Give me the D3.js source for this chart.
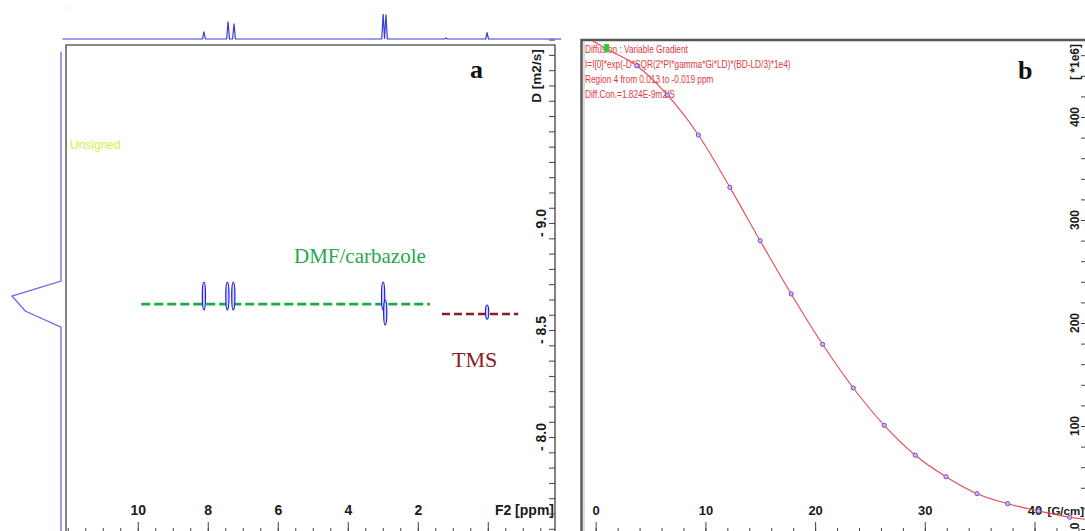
<!DOCTYPE html>
<html>
<head>
<meta charset="utf-8">
<script src="https://cdn.jsdelivr.net/npm/d3@7"></script>
<style>
  body { margin: 0; background: #fff; overflow: hidden; }
  .axis text { font-family: Arial, "Liberation Sans", sans-serif; font-weight: bold; fill: #1a1a1a; }
  .axis line { stroke: #444; }
</style>
</head>
<body>
<script>
// ---- panel a : 2D DOSY map ----
var f2Ticks = [10, 8, 6, 4, 2];
var dTicks = [-9.0, -8.5, -8.0];
var dTickLabels = ["- 9.0", "- 8.5", "- 8.0"];
// 1D projection along F2 : [ppm, relative height]
var projF2 = [[8.11, 0.30], [7.42, 0.70], [7.25, 0.62], [2.99, 1.0], [2.91, 0.98], [1.19, 0.04], [0.02, 0.26]];
// projection along D : [log D, relative height]
var projD = [[-9.80, 0], [-8.729, 0], [-8.659, 1], [-8.589, 0.73], [-8.514, 0], [-7.55, 0]];
// cross peaks
var peakPpm = [8.11, 7.44, 7.27, 2.99, 2.93, 0.02];
var peakD = [-8.659, -8.659, -8.659, -8.659, -8.582, -8.584];
var peakSpan = [0.065, 0.065, 0.065, 0.065, 0.058, 0.033];
// guide lines
var dmfLine = [[9.9, -8.621], [1.65, -8.621]];
var tmsLine = [[1.31, -8.575], [-0.87, -8.575]];

// ---- panel b : signal decay vs gradient ----
var gradient = [1.0, 3.74, 6.53, 9.36, 12.23, 14.99, 17.82, 20.68, 23.48, 26.3, 29.13, 31.93, 34.76, 37.55, 40.36, 43.21];
var intensity = [466, 449.8, 421.4, 382.5, 331.7, 279.9, 228.2, 179.3, 136.9, 100.7, 71.6, 50.8, 34.3, 24.6, 17.5, 11.4];
var fitStart = [-0.3, 474], fitEnd = [44.6, 9.5];
var gTicks = [0, 10, 20, 30, 40];
var iTicks = [0, 100, 200, 300, 400];
var infoLines = ["Diffusion : Variable Gradient",
  "I=I[0]*exp(-D*SQR(2*PI*gamma*Gi*LD)*(BD-LD/3)*1e4)",
  "Region 4 from 0.013 to -0.019 ppm",
  "Diff.Con.=1.824E-9m2/S"];

var W = 1085, H = 531;
var svg = d3.select("body").append("svg").attr("width", W).attr("height", H);

// ================= panel a =================
var xA = d3.scaleLinear().domain([12.05, -1.92]).range([66, 555]);
var yA = d3.scaleLinear().domain([-9.832, -7.561]).range([45, 531]);
var projTop = d3.scaleLinear().domain([0, 1]).range([39, 14]);
var projLeft = d3.scaleLinear().domain([0, 1]).range([61, 12]);

svg.append("text").attr("x", 66).attr("y", 10).style("font", "8px Arial").style("fill", "#aaa").text(":");

// top projection
var topPts = [[12.15, 0]];
projF2.forEach(function (p) { topPts.push([p[0] + 0.04, 0], [p[0], p[1]], [p[0] - 0.04, 0]); });
topPts.push([-2.1, 0]);
svg.append("path")
  .attr("d", d3.line().x(function (d) { return xA(d[0]); }).y(function (d) { return projTop(d[1]); })(topPts))
  .attr("fill", "none").attr("stroke", "#3a3ae0").attr("stroke-width", 1.2);

// left projection
svg.append("path")
  .attr("d", d3.line().x(function (d) { return projLeft(d[1]); }).y(function (d) { return yA(d[0]); })(projD))
  .attr("fill", "none").attr("stroke", "#6a6ae8").attr("stroke-width", 1.3);

// frame
svg.append("path").attr("d", "M66,531V45H555V531").attr("fill", "none")
  .attr("stroke", "#666").attr("stroke-width", 1.6);

// bottom F2 axis (ticks pointing up)
var f2Minor = d3.range(-1.5, 12.01, 0.5);
svg.append("g").attr("class", "axis").attr("transform", "translate(0,533)")
  .call(d3.axisTop(xA).tickValues(f2Minor).tickSize(5).tickFormat(""))
  .call(function (g) { g.select(".domain").remove(); });
svg.append("g").attr("class", "axis").attr("transform", "translate(0,533)")
  .call(d3.axisTop(xA).tickValues(f2Ticks.concat([0])).tickSize(11).tickPadding(7)
    .tickFormat(function (d) { return d === 0 ? "" : d; }))
  .call(function (g) { g.select(".domain").remove(); g.selectAll("text").style("font-size", "14px"); });
svg.append("text").attr("x", 554).attr("y", 515).attr("text-anchor", "end")
  .style("font", "bold 14px Arial").style("fill", "#1a1a1a").text("F2 [ppm]");

// right D axis (ticks pointing in)
var dMinor = d3.range(-9 - 12 * (0.5 / 7), -7.5, 0.5 / 7);
svg.append("g").attr("class", "axis").attr("transform", "translate(555,0)")
  .call(d3.axisLeft(yA).tickValues(dMinor).tickSize(6).tickFormat(""))
  .call(function (g) { g.select(".domain").remove(); });
svg.selectAll(".dlab").data(dTicks).enter().append("text")
  .attr("transform", function (d) { return "translate(541," + yA(d) + ") rotate(-90)"; })
  .attr("text-anchor", "middle").attr("dy", "0.35em")
  .style("font", "bold 14px Arial").style("fill", "#1a1a1a")
  .text(function (d, i) { return dTickLabels[i]; });
svg.append("text").attr("transform", "translate(536,76) rotate(-90)")
  .attr("text-anchor", "middle").attr("dy", "0.35em")
  .style("font", "bold 13.5px Arial").style("fill", "#1a1a1a").text("D [m2/s]");

svg.append("text").attr("x", 70).attr("y", 149).style("font", "12px Arial")
  .style("fill", "#d2ef45").text("Unsigned");

// guide lines
var lineA = d3.line().x(function (d) { return xA(d[0]); }).y(function (d) { return yA(d[1]); });
svg.append("path").attr("d", lineA(dmfLine)).attr("stroke", "#1fa84c").attr("stroke-width", 2.6)
  .attr("stroke-dasharray", "9,4").attr("fill", "none");
svg.append("path").attr("d", lineA(tmsLine)).attr("stroke", "#8b1c1c").attr("stroke-width", 2.6)
  .attr("stroke-dasharray", "8,4").attr("fill", "none");

// cross peaks
svg.selectAll(".pk").data(peakPpm).enter().append("ellipse")
  .attr("cx", function (d) { return xA(d); })
  .attr("cy", function (d, i) { return yA(peakD[i]); })
  .attr("rx", 1.6)
  .attr("ry", function (d, i) { return yA(peakD[i] + peakSpan[i]) - yA(peakD[i]); })
  .attr("fill", "#d4d4ff").attr("stroke", "#1f1fe0").attr("stroke-width", 1.2);

svg.append("text").attr("x", 294).attr("y", 263).style("font", "21px 'Liberation Serif', 'Times New Roman', serif")
  .style("fill", "#1fa84c").text("DMF/carbazole");
svg.append("text").attr("x", 452).attr("y", 367).style("font", "22px 'Liberation Serif', 'Times New Roman', serif")
  .style("fill", "#8b1c1c").text("TMS");
svg.append("text").attr("x", 470).attr("y", 78).style("font", "bold 26px 'Liberation Serif', 'Times New Roman', serif")
  .style("fill", "#111").text("a");

// ================= panel b =================
var xB = d3.scaleLinear().domain([-1.34, 44.6]).range([581, 1085]);
var yB = d3.scaleLinear().domain([0, 475]).range([529, 39.75]);

svg.append("path").attr("d", "M581.5,531V40H1085").attr("fill", "none")
  .attr("stroke", "#555").attr("stroke-width", 2.4);
svg.append("line").attr("x1", 584).attr("x2", 584).attr("y1", 41).attr("y2", 531)
  .attr("stroke", "#bbb").attr("stroke-width", 1);

// info text (condensed horizontally like the original)
svg.append("g").attr("transform", "translate(585,0) scale(0.83,1)")
  .selectAll("text").data(infoLines).enter().append("text")
  .attr("x", 0).attr("y", function (d, i) { return 53 + i * 15; })
  .style("font", "10px Arial, 'Liberation Sans', sans-serif")
  .style("fill", "#e2383d").text(function (d) { return d; });

// bottom gradient axis
svg.append("g").attr("class", "axis").attr("transform", "translate(0,533)")
  .call(d3.axisTop(xB).tickValues(d3.range(0, 45, 2)).tickSize(5).tickFormat(""))
  .call(function (g) { g.select(".domain").remove(); });
svg.append("g").attr("class", "axis").attr("transform", "translate(0,533)")
  .call(d3.axisTop(xB).tickValues(gTicks).tickSize(11).tickPadding(7))
  .call(function (g) { g.select(".domain").remove(); g.selectAll("text").style("font-size", "13px"); });
svg.append("text").attr("x", 1084).attr("y", 515).attr("text-anchor", "end")
  .style("font", "bold 11.5px Arial").style("fill", "#1a1a1a").text("[G/cm]");

// right intensity axis
svg.append("g").attr("class", "axis").attr("transform", "translate(1085,0)")
  .call(d3.axisLeft(yB).tickValues(d3.range(0, 475, 20)).tickSize(4).tickFormat(""))
  .call(function (g) { g.select(".domain").remove(); });
svg.selectAll(".ilab").data(iTicks).enter().append("text")
  .attr("transform", function (d) { return "translate(1075," + (d === 0 ? yB(d) - 3 : yB(d)) + ") rotate(-90)"; })
  .attr("text-anchor", "middle").attr("dy", "0.35em")
  .style("font", "bold 12px Arial").style("fill", "#1a1a1a").text(function (d) { return d; });
svg.append("text").attr("transform", "translate(1075,62) rotate(-90)")
  .attr("text-anchor", "middle").attr("dy", "0.35em")
  .style("font", "bold 12px Arial").style("fill", "#1a1a1a").text("[ *1e6]");

// fitted curve
var fit = [fitStart].concat(gradient.map(function (g, i) { return [g, intensity[i]]; }), [fitEnd]);
svg.append("path")
  .attr("d", d3.line().curve(d3.curveMonotoneX)
    .x(function (d) { return xB(d[0]); }).y(function (d) { return yB(d[1]); })(fit))
  .attr("fill", "none").attr("stroke", "#ea4a4e").attr("stroke-width", 1.1);

svg.selectAll(".pt").data(gradient).enter().append("circle")
  .attr("cx", function (d) { return xB(d); })
  .attr("cy", function (d, i) { return yB(intensity[i]); })
  .attr("r", 2.1).attr("fill", "#cbbcf6").attr("stroke", "#6b4fd2").attr("stroke-width", 1);

// marker on first point
svg.append("rect").attr("x", xB(gradient[0]) - 2.5).attr("y", yB(intensity[0]) - 5)
  .attr("width", 5).attr("height", 8).attr("fill", "#2ccf3a");

svg.append("text").attr("x", 1018).attr("y", 79).style("font", "bold 26px 'Liberation Serif', 'Times New Roman', serif")
  .style("fill", "#111").text("b");
</script>
</body>
</html>
